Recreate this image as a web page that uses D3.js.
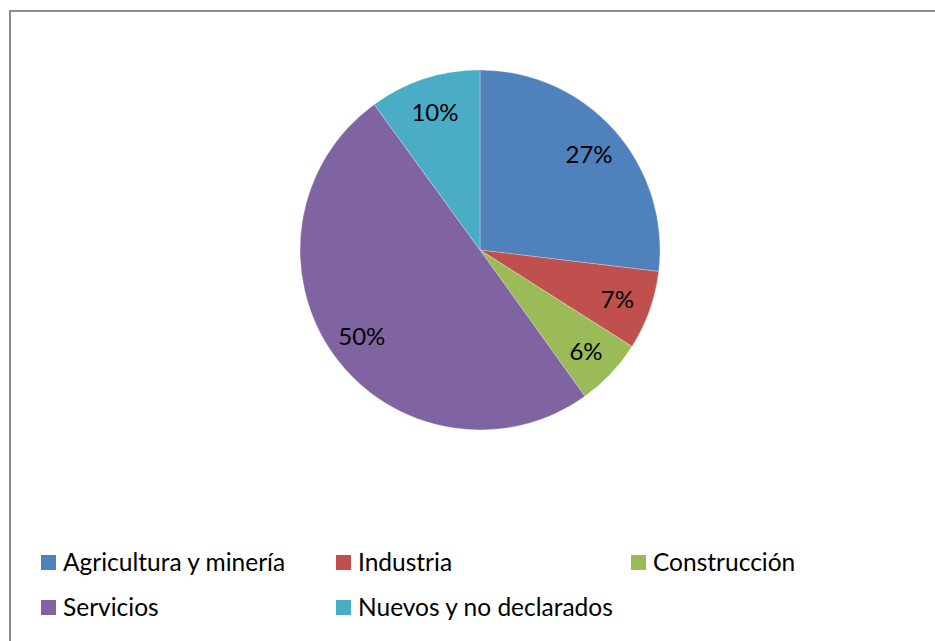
<!DOCTYPE html>
<html><head><meta charset="utf-8">
<script src="https://cdn.jsdelivr.net/npm/d3@7"></script>
<style>html,body{margin:0;padding:0;background:#fff;}svg{display:block;}</style>
</head><body>
<svg id="chart" width="935" height="641"></svg>
<script>
const categories = ["Agricultura y minería", "Industria", "Construcción", "Servicios", "Nuevos y no declarados"];
const values = [26.9, 7.1, 6.1, 49.9, 10.0];
const labels = ["27%", "7%", "6%", "50%", "10%"];
const colors = ["#4F81BD", "#C0504D", "#9BBB59", "#8064A2", "#4BACC6"];

const svg = d3.select("#chart");
const font = "Lato, 'Open Sans', sans-serif";

// frame
svg.append("rect").attr("x", 10).attr("y", 11).attr("width", 1000).attr("height", 1000)
  .attr("fill", "none").attr("stroke", "#8c8c8c").attr("stroke-width", 2);

const cx = 480, cy = 250, r = 180;
const pie = d3.pie().sort(null).value(d => d);
const arcs = pie(values);
const arc = d3.arc().innerRadius(0).outerRadius(r);
const labelArc = d3.arc().innerRadius(r * 0.81).outerRadius(r * 0.81);

const g = svg.append("g").attr("transform", `translate(${cx},${cy})`);
g.selectAll("path").data(arcs).enter().append("path")
  .attr("d", arc).attr("fill", (d, i) => colors[i])
  .attr("stroke", "#ffffff").attr("stroke-width", 0.5).attr("stroke-opacity", 0.5);

g.selectAll("text").data(arcs).enter().append("text")
  .attr("transform", d => `translate(${labelArc.centroid(d)})`)
  .attr("text-anchor", "middle").attr("dominant-baseline", "central")
  .style("font-family", font).style("font-size", "24px").attr("fill", "#000")
  .text((d, i) => labels[i]);

// legend
const colX = [41, 336, 631];
const rowY = [555, 600];
const leg = svg.append("g");
categories.forEach((c, i) => {
  const x = colX[i % 3], y = rowY[Math.floor(i / 3)];
  leg.append("rect").attr("x", x).attr("y", y).attr("width", 15).attr("height", 15).attr("fill", colors[i]);
  leg.append("text").attr("x", x + 22).attr("y", y + 16)
    .style("font-family", font).style("font-size", "24.5px").attr("fill", "#000").text(c);
});
</script>
</body></html>
